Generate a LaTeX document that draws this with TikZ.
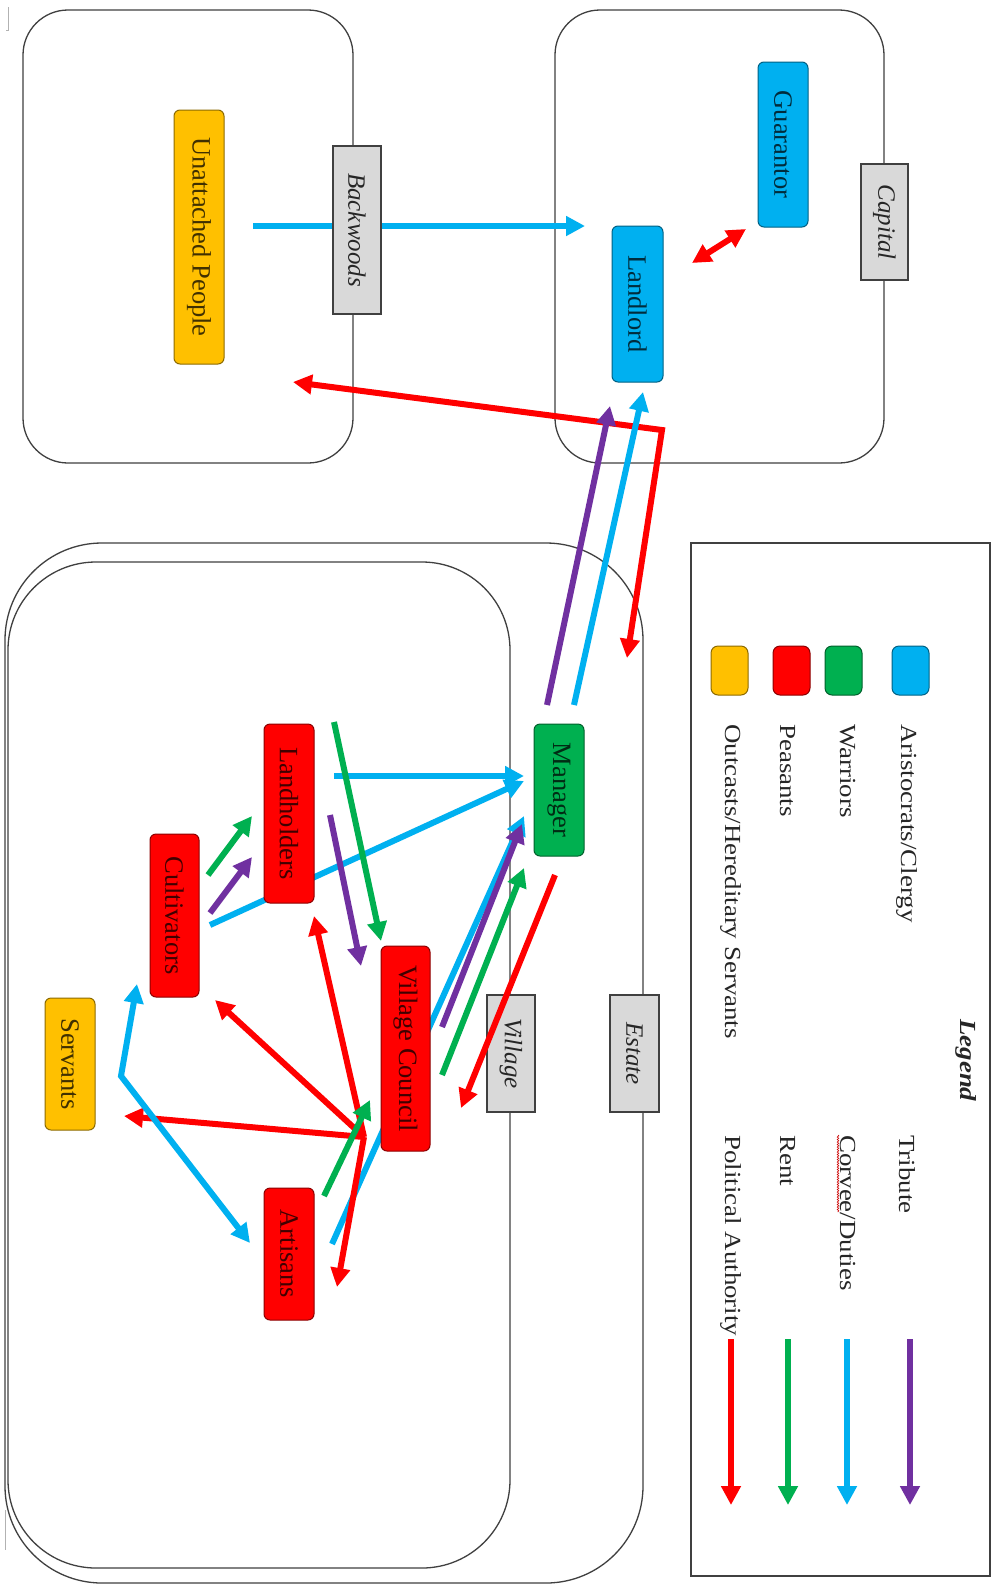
\documentclass[tikz,border=0pt]{standalone}
\usepackage{fontspec}
\usepackage{graphicx}
\setmainfont{Liberation Serif}
\usetikzlibrary{arrows.meta,decorations.pathmorphing}
\definecolor{cblue}{HTML}{00B0F0}
\definecolor{cgreen}{HTML}{00B050}
\definecolor{cred}{HTML}{FF0000}
\definecolor{cpurple}{HTML}{7030A0}
\definecolor{corange}{HTML}{FFC000}
\definecolor{cgray}{HTML}{D9D9D9}
\definecolor{cline}{HTML}{404040}
\begin{document}
\begin{tikzpicture}[x=1pt,y=-1pt,
  >={Triangle[length=19pt,width=19pt]},
  container/.style={draw=cline,line width=1.3pt},
  cls/.style={draw=#1!55!black,fill=#1,rounded corners=6pt,line width=1pt,
    text=#1!25!black,inner sep=0pt,font=\fontsize{26.5}{30}\selectfont},
  tag/.style={draw=cline,fill=cgray,line width=1.3pt,inner sep=0pt,
    text=black!85,font=\fontsize{25}{28}\selectfont\itshape},
  flow/.style={line width=6pt,draw=#1},
  swatch/.style={draw=#1!55!black,fill=#1,rounded corners=7pt,line width=1pt,
    minimum width=37pt,minimum height=49pt,inner sep=0pt},
  legtext/.style={anchor=north,inner sep=0pt,text=black!85,
    font=\fontsize{23}{26}\selectfont}
]
\useasboundingbox (0,0) rectangle (991,1585);
\fill[white] (0,0) rectangle (991,1585);

% page artifacts
\draw[black!30,line width=0.8pt] (6,30) -- (8.5,30) -- (8.5,7);
\draw[black!30,line width=0.8pt] (5,1510) -- (5,1550);

% containers
\draw[container,rounded corners=45pt] (23,10) rectangle (353,463);
\draw[container,rounded corners=45pt] (555,10) rectangle (884,463);
\draw[container,rounded corners=97pt] (5,543) rectangle (643,1583);
\draw[container,rounded corners=88pt] (8,562) rectangle (510,1568);
\draw[container] (691,543) rectangle (990,1576);

% village tag (below arrows)
\node[tag,minimum width=48pt,minimum height=117pt] (village) at (511,1053.5) {\rotatebox{-90}{Village}};

% coordinates for connector ends
\coordinate (a1s) at (253,226);   \coordinate (a1e) at (585,226);
\coordinate (a2s) at (692,263);   \coordinate (a2e) at (746,229);
\coordinate (a3s) at (293,382);   \coordinate (a3c) at (662,430); \coordinate (a3e) at (627,658);
\coordinate (a4s) at (547,705);   \coordinate (a4e) at (610,406);
\coordinate (a5s) at (574,705);   \coordinate (a5e) at (643,392);
\coordinate (b1s) at (334,776);   \coordinate (b1e) at (524,776);
\coordinate (b2s) at (210,925);   \coordinate (b2e) at (524,781);
\coordinate (b3s) at (334,722);   \coordinate (b3e) at (381,941);
\coordinate (b4s) at (330,815);   \coordinate (b4e) at (361,966);
\coordinate (b5s) at (208,875);   \coordinate (b5e) at (252,816);
\coordinate (b6s) at (210,913);   \coordinate (b6e) at (252,857);
\coordinate (b7s) at (332,1244);  \coordinate (b7e) at (524,816);
\coordinate (b8s) at (442,1027);  \coordinate (b8e) at (522,824);
\coordinate (b9s) at (442,1075);  \coordinate (b9e) at (524,868);
\coordinate (b10s) at (555,875);  \coordinate (b10e) at (461,1108);
\coordinate (hub) at (364,1137);
\coordinate (h1) at (314,916);    \coordinate (h2) at (215,1000);
\coordinate (h3) at (124,1116);   \coordinate (h4) at (337,1287);
\coordinate (s1) at (137,984);    \coordinate (sc) at (121,1076); \coordinate (s2) at (250,1243);
\coordinate (g1s) at (324,1196);  \coordinate (g1e) at (370,1100);

% arrows
\draw[flow=cblue,->] (a1s) -- (a1e);
\draw[flow=cred,<->] (a2s) -- (a2e);
\draw[flow=cred,<->] (a3s) -- (a3c) -- (a3e);
\draw[flow=cpurple,->] (a4s) -- (a4e);
\draw[flow=cblue,->] (a5s) -- (a5e);
\draw[flow=cblue,->] (b1s) -- (b1e);
\draw[flow=cblue,->] (b2s) -- (b2e);
\draw[flow=cgreen,->] (b3s) -- (b3e);
\draw[flow=cpurple,->] (b4s) -- (b4e);
\draw[flow=cgreen,->] (b5s) -- (b5e);
\draw[flow=cpurple,->] (b6s) -- (b6e);
\draw[flow=cblue,->] (b7s) -- (b7e);
\draw[flow=cpurple,->] (b8s) -- (b8e);
\draw[flow=cgreen,->] (b9s) -- (b9e);
\draw[flow=cred,->] (b10s) -- (b10e);
\draw[flow=cred,->] (hub) -- (h1);
\draw[flow=cred,->] (hub) -- (h2);
\draw[flow=cred,->] (hub) -- (h3);
\draw[flow=cred,->] (hub) -- (h4);
\draw[flow=cblue,<->] (s1) -- (sc) -- (s2);
\draw[flow=cgreen,->] (g1s) -- (g1e);

% tags above arrows
\node[tag,minimum width=48pt,minimum height=168pt] (backwoods) at (357,230) {\rotatebox{-90}{Backwoods}};
\node[tag,minimum width=47pt,minimum height=116pt] (capital) at (884.5,222) {\rotatebox{-90}{Capital}};
\node[tag,minimum width=49pt,minimum height=117pt] (estate) at (634.5,1053.5) {\rotatebox{-90}{Estate}};

% class nodes
\node[cls=corange,minimum width=50pt,minimum height=254pt] (unatt) at (199,237) {\rotatebox{-90}{Unattached People}};
\node[cls=cblue,minimum width=50pt,minimum height=165pt] (guar) at (783,144.5) {\rotatebox{-90}{Guarantor}};
\node[cls=cblue,minimum width=51pt,minimum height=156pt] (landlord) at (637.5,304) {\rotatebox{-90}{Landlord}};
\node[cls=cgreen,minimum width=50pt,minimum height=132pt] (manager) at (559,790) {\rotatebox{-90}{Manager}};
\node[cls=cred,minimum width=50pt,minimum height=179pt] (landh) at (289,813.5) {\rotatebox{-90}{Landholders}};
\node[cls=cred,minimum width=49pt,minimum height=163pt] (cult) at (174.5,915.5) {\rotatebox{-90}{Cultivators}};
\node[cls=cred,minimum width=49pt,minimum height=205pt] (vc) at (405.5,1048.5) {\rotatebox{-90}{Village Council}};
\node[cls=corange,minimum width=50pt,minimum height=132pt] (serv) at (70,1064) {\rotatebox{-90}{Servants}};
\node[cls=cred,minimum width=50pt,minimum height=132pt] (artis) at (289,1254) {\rotatebox{-90}{Artisans}};

% legend
\node[swatch=cblue] (swA) at (910.5,670.5) {};
\node[swatch=cgreen] (swW) at (843.5,670.5) {};
\node[swatch=cred] (swP) at (791.5,670.5) {};
\node[swatch=corange] (swO) at (729.5,670.5) {};
\node[legtext] (tA) at (907,724) {\rotatebox{-90}{\scalebox{1.17}[1]{Aristocrats/Clergy}}};
\node[legtext] (tW) at (848,724) {\rotatebox{-90}{\scalebox{1.17}[1]{Warriors}}};
\node[legtext] (tP) at (788,724) {\rotatebox{-90}{\scalebox{1.17}[1]{Peasants}}};
\node[legtext] (tO) at (731,724) {\rotatebox{-90}{\scalebox{1.17}[1]{Outcasts/Hereditary Servants}}};
\node[legtext,font=\fontsize{23}{26}\selectfont\bfseries\itshape] (tL) at (966,1019) {\rotatebox{-90}{\scalebox{1.17}[1]{Legend}}};
\node[legtext] (tT) at (907,1135) {\rotatebox{-90}{\scalebox{1.17}[1]{Tribute}}};
\node[legtext] (tC) at (848,1135) {\rotatebox{-90}{\scalebox{1.17}[1]{Corvee/Duties}}};
\node[legtext] (tR) at (788,1135) {\rotatebox{-90}{\scalebox{1.17}[1]{Rent}}};
\node[legtext] (tPA) at (731,1135) {\rotatebox{-90}{\scalebox{1.17}[1]{Political Authority}}};
\draw[red!80!black,line width=0.6pt,decorate,decoration={snake,amplitude=0.8pt,segment length=2.5pt}] (838,1135) -- (838,1212);
\coordinate (l1s) at (910,1339); \coordinate (l1e) at (910,1505);
\coordinate (l2s) at (847,1339); \coordinate (l2e) at (847,1505);
\coordinate (l3s) at (788,1339); \coordinate (l3e) at (788,1505);
\coordinate (l4s) at (731,1339); \coordinate (l4e) at (731,1505);
\draw[flow=cpurple,->] (l1s) -- (l1e);
\draw[flow=cblue,->] (l2s) -- (l2e);
\draw[flow=cgreen,->] (l3s) -- (l3e);
\draw[flow=cred,->] (l4s) -- (l4e);
\end{tikzpicture}
\end{document}
